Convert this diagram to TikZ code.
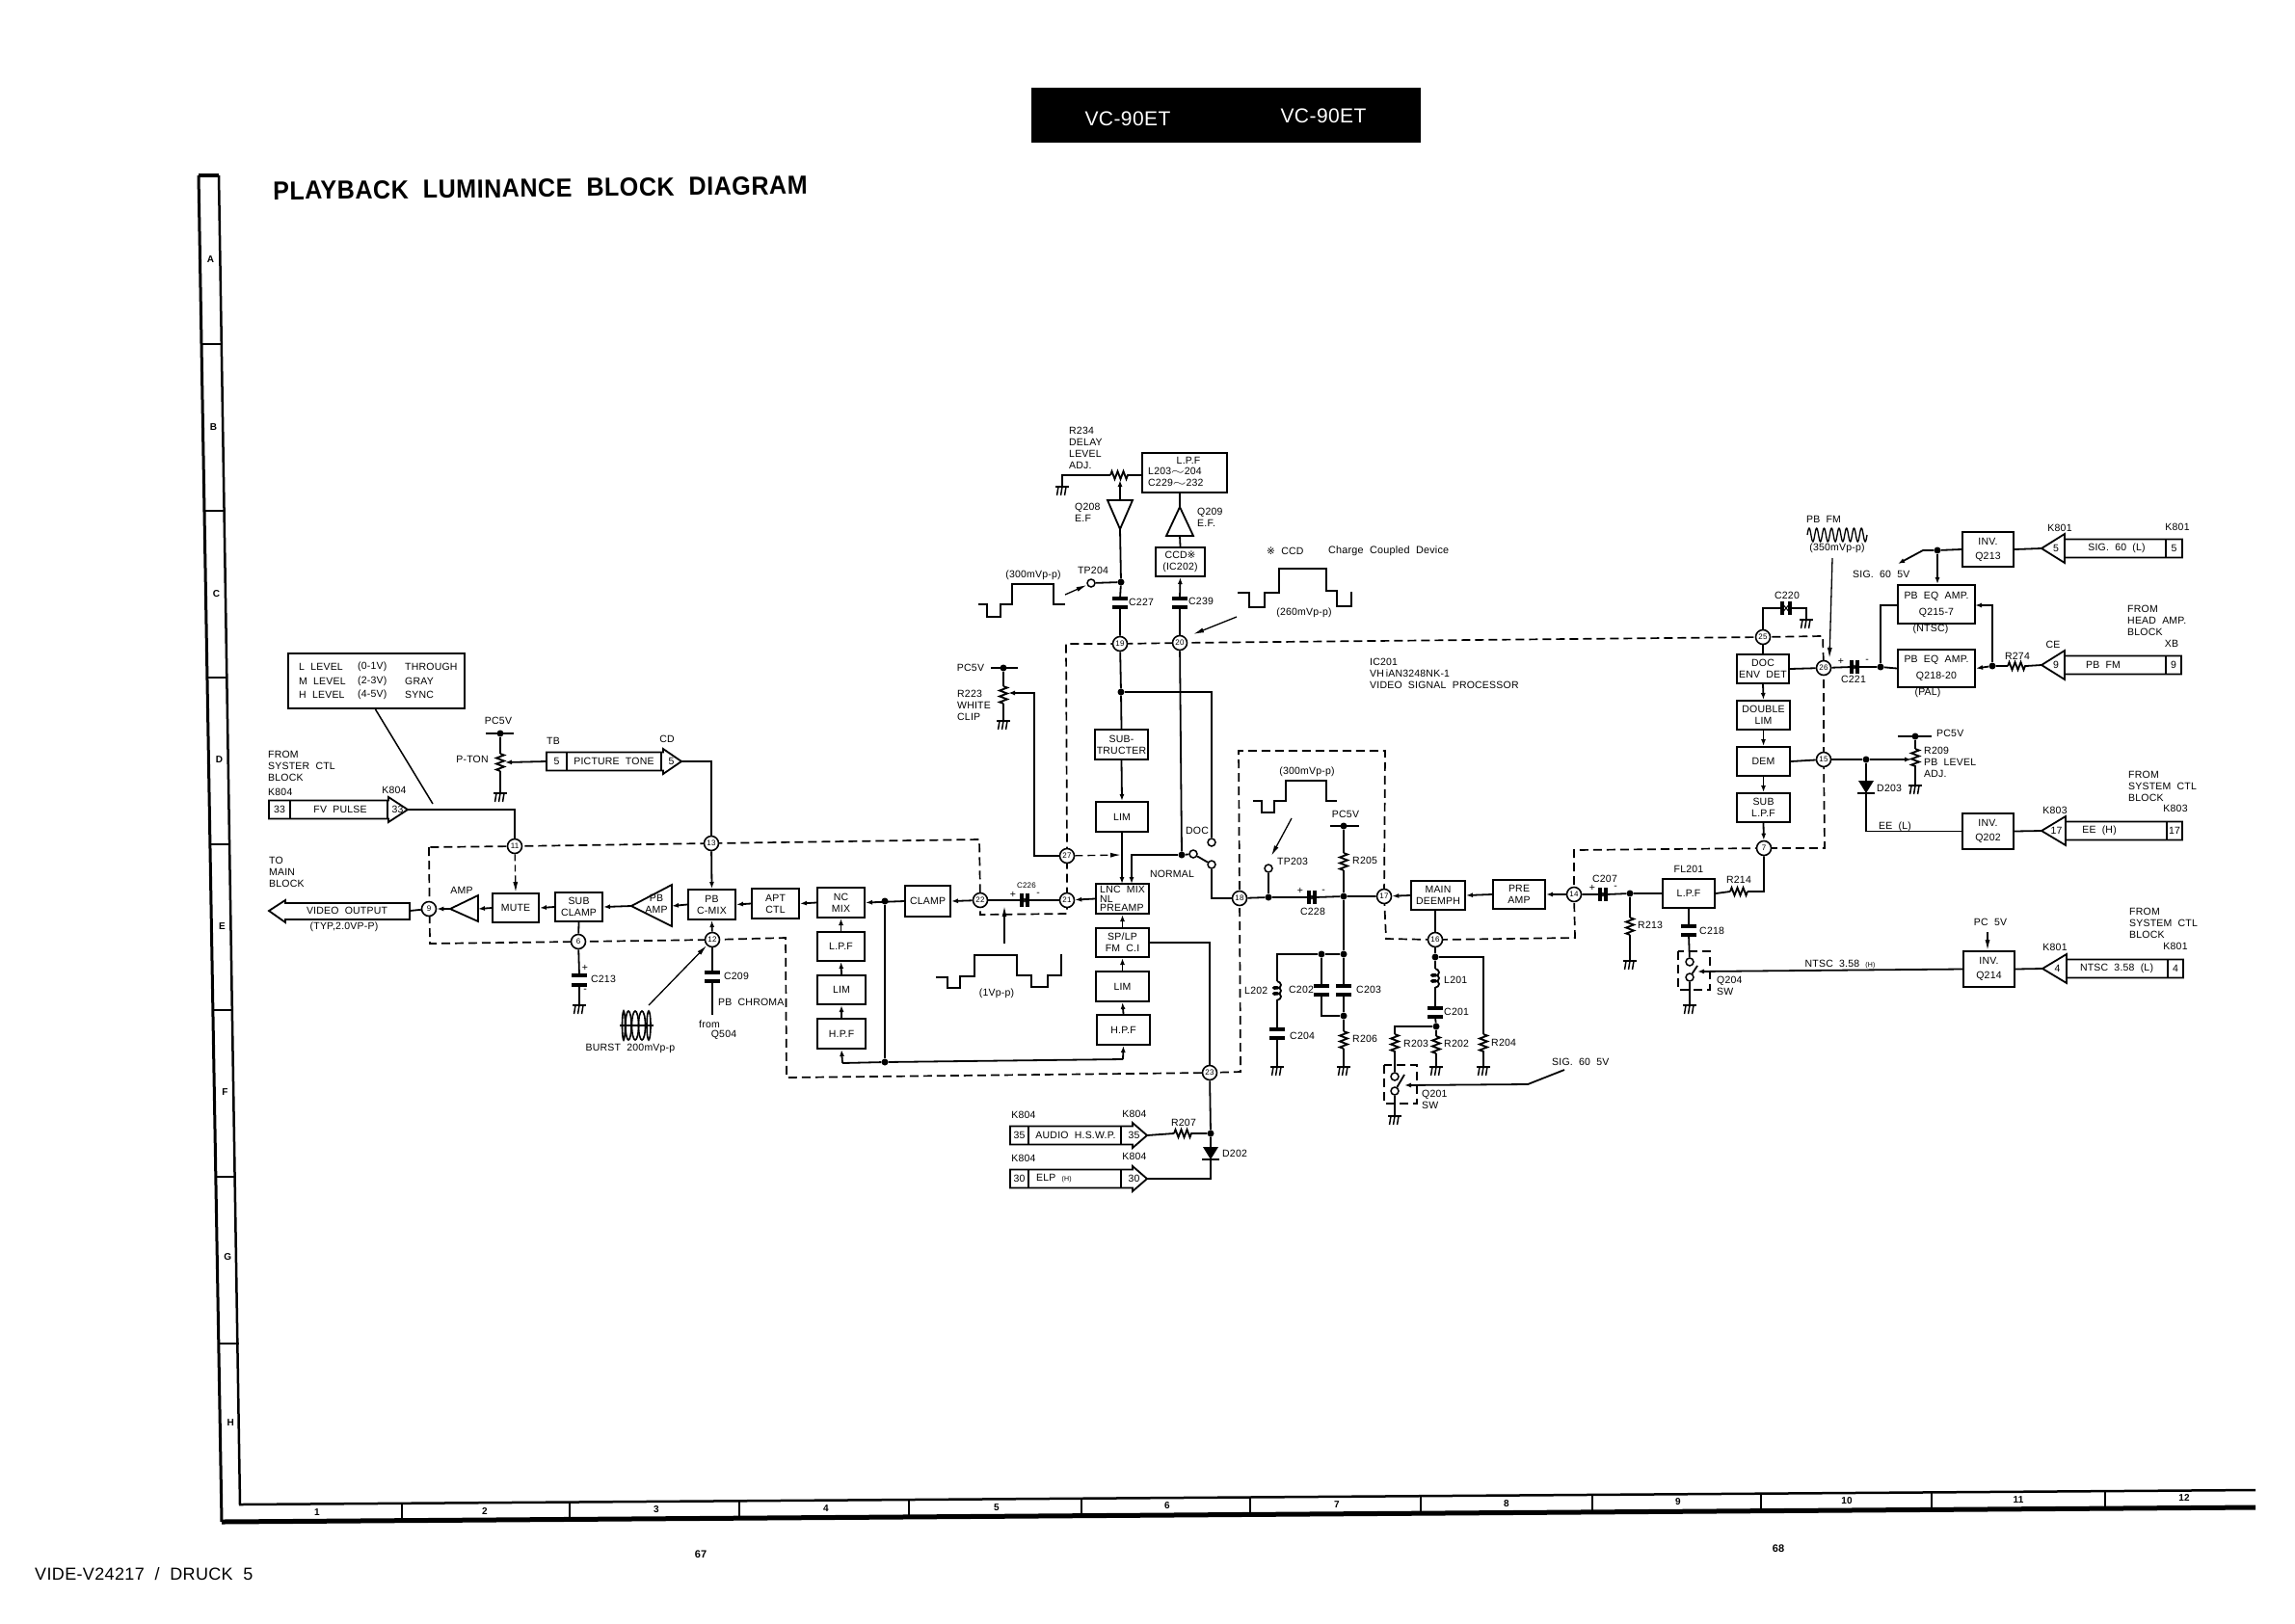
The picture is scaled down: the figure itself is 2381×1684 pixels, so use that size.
\documentclass[tikz,border=0pt]{standalone}
\usepackage{fontspec}
\setmainfont[LetterSpace=2,WordSpace=2]{Liberation Sans}
\newfontfamily\symfont{DejaVu Sans}
\usetikzlibrary{arrows.meta,decorations.pathmorphing}
\tikzset{
  sig/.style={line width=1.8pt},
  sigto/.style={sig,-{Latex[length=7pt,width=5pt]}},
  thinto/.style={line width=1.3pt,-{Latex[length=11pt,width=5pt]}},
  blockbox/.style={draw,line width=2pt,inner sep=0pt,align=center,fill=white},
  tpt/.style={circle,draw,line width=1.6pt,fill=white,inner sep=0pt,minimum size=15pt,font=\fontsize{8}{8}\selectfont},
  junc/.style={circle,fill,inner sep=0pt,minimum size=7pt},
  swc/.style={circle,draw,line width=1.5pt,fill=white,inner sep=0pt,minimum size=8pt},
  tag/.style={inner sep=0pt,align=center},
  tagl/.style={tag,anchor=west,align=left},
  icline/.style={line width=1.7pt,dash pattern=on 9pt off 5pt},
  wave/.style={line width=1.6pt,line join=miter},
  plate/.style={line width=3.2pt},
  zig/.style={sig,decorate,decoration={zigzag,amplitude=4pt,segment length=6pt}},
  coilv/.style={sig,decorate,decoration={coil,aspect=0.6,amplitude=4pt,segment length=6pt}},
}
\newcommand{\blk}[6]{\node[blockbox,minimum width={#4-#2},minimum height={#5-#3}] (#1) at ({(#2+#4)/2},{(#3+#5)/2}) {#6};}
\newcommand{\gnd}[3]{\coordinate (#1) at (#2,#3);
  \draw[line width=2pt] (#2-7,#3) -- (#2+7,#3);
  \foreach \gx in {-4,0,4} \draw[line width=1.5pt] (#2+\gx,#3) -- (#2+\gx-1.5,#3+9);}
\newcommand{\resV}[4]{\coordinate (#1a) at (#2,#3); \coordinate (#1b) at (#2,#4); \draw[zig] (#1a) -- (#1b);}
\newcommand{\resH}[4]{\coordinate (#1a) at (#2,#4); \coordinate (#1b) at (#3,#4); \draw[zig] (#1a) -- (#1b);}
\newcommand{\capV}[4]{\coordinate (#1a) at (#2,#3); \coordinate (#1b) at (#2,#4);
  \draw[plate] (#2-8,#3) -- (#2+8,#3) (#2-8,#4) -- (#2+8,#4);}
\newcommand{\capH}[4]{\coordinate (#1a) at (#2,#4); \coordinate (#1b) at (#3,#4);
  \draw[plate] (#2,#4-7) -- (#2,#4+7) (#3,#4-7) -- (#3,#4+7);
  \draw[line width=1pt] (#2,#4-5) -- (#3,#4+5) (#2,#4+5) -- (#3,#4-5);}
\newcommand{\diodeD}[3]{\coordinate (#1) at (#2,#3);
  \fill (#2-8,#3-7) -- (#2+8,#3-7) -- (#2,#3+6) -- cycle;
  \draw[line width=2pt] (#2-9,#3+6) -- (#2+9,#3+6);}
\newcommand{\portright}[9]{%
  \draw[sig,fill=white] (#2,#7-9.5) -- (#5,#7-9.5) -- (#5,#7-13) -- (#6,#7) -- (#5,#7+13) -- (#5,#7+9.5) -- (#2,#7+9.5) -- cycle;
  \draw[sig] (#3,#7-9.5) -- (#3,#7+9.5) (#4,#7-9.5) -- (#4,#7+9.5);
  \coordinate (#1) at (#6,#7); \coordinate (#1in) at (#2,#7);
  \node[tag] (#1a) at ({(#2+#3)/2},#7) {#8};
  \node[tag] (#1b) at ({(#4+#6)/2},#7) {#9};}
\newcommand{\portleft}[8]{%
  \draw[sig,fill=white] (#5,#6-9.5) -- (#3,#6-9.5) -- (#3,#6-15) -- (#2,#6) -- (#3,#6+15) -- (#3,#6+9.5) -- (#5,#6+9.5) -- cycle;
  \draw[sig] (#3,#6-9.5) -- (#3,#6+9.5) (#4,#6-9.5) -- (#4,#6+9.5);
  \coordinate (#1) at (#2,#6);
  \node[tag] (#1a) at ({(#2+#3)/2+3},#6) {#7};
  \node[tag] (#1b) at ({(#4+#5)/2},#6) {#8};}

\begin{document}
\begin{tikzpicture}[x=1pt,y=-1pt,font=\fontsize{10.5}{12}\selectfont]
  \useasboundingbox (0,0) rectangle (2381,1684);

  % sheet frame
  \draw[line width=3pt] (206,182) -- (230,1579);
  \draw[line width=5pt] (230,1579) -- (2340,1564);
  \draw[line width=2.5pt] (227,182) -- (249,1561) -- (2340,1546);
  \draw[line width=4pt] (206,182) -- (227,182);
  \foreach \ty in {357,530,703,876,1048,1221,1394}
    \draw[line width=1.8pt] ({206+(\ty-182)*0.01717},\ty) -- ++(21,0);
  \foreach \ty/\tl in {269/A,443/B,616/C,788/D,961/E,1133/F,1304/G,1476/H}
    \node[tag,font=\bfseries\fontsize{10}{12}\selectfont] (row\tl) at ({217+(\ty-182)*0.01717},\ty) {\tl};
  \foreach \cx in {417,591,767,943,1122,1297,1474,1652,1827,2004,2184}
    \draw[line width=1.6pt] (\cx,{1561-(\cx-249)*0.00717}) -- ++(0,16);
  \foreach \cx/\cn in {329/1,503/2,681/3,857/4,1034/5,1211/6,1387/7,1563/8,1741/9,1916/10,2094/11,2266/12}
    \node[tag,font=\bfseries\fontsize{10}{12}\selectfont] (col\cn) at (\cx,{1569-(\cx-329)*0.0076}) {\cn};

  % headings
  \fill (1070,91) rectangle (1474,148);
  \node[tag,white,font=\fontsize{21}{23}\selectfont] (modela) at (1170,123) {VC-90ET};
  \node[tag,white,font=\fontsize{21}{23}\selectfont] (modelb) at (1373,120) {VC-90ET};
  \node[tagl,rotate=0.6,font=\bfseries\fontsize{27}{30}\selectfont] (title) at (283,198) {\scalebox{0.93}[1]{PLAYBACK LUMINANCE BLOCK DIAGRAM}};
  \node[tagl,font=\fontsize{18}{20}\selectfont] (druck) at (36,1633) {VIDE-V24217 / DRUCK 5};
  \node[tag,font=\bfseries\fontsize{11}{12}\selectfont] (pagea) at (727,1613) {67};
  \node[tag,font=\bfseries\fontsize{11}{12}\selectfont] (pageb) at (1845,1607) {68};

  % IC pins
  \foreach \pn/\px/\py in {9/445/943,11/534/878,13/738/875,6/600/977,12/739/975,22/1017/934,21/1107/934,27/1107/888,19/1162/668,20/1224/667,18/1286/932,23/1255/1113,17/1436/930,16/1489/975,14/1633/928,7/1830/880,15/1892/788,26/1892/693,25/1829/661}
    \coordinate (p\pn) at (\px,\py);
  \foreach \pc/\px/\py in {1/445/879,2/446/979,3/815/973,4/816/1118,5/1287/1112,6/1285/779,7/1437/779,8/1438/974,9/1634/973,10/1633/882,11/1893/880,12/1891/660,13/1106/668,14/1107/948,15/1017/949,16/1016/871}
    \coordinate (ic\pc) at (\px,\py);
  \draw[icline] (ic1) -- (ic2) -- (p6) -- (p12) -- (ic3) -- (ic4) -- (p23) -- (ic5) -- (p18) -- (ic6) -- (ic7) -- (p17) -- (ic8) -- (p16) -- (ic9) -- (p14) -- (ic10) -- (p7) -- (ic11) -- (p15) -- (p26) -- (ic12) -- (p25) -- (p20) -- (p19) -- (ic13) -- (p27) -- (p21) -- (ic14) -- (ic15) -- (p22) -- (ic16) -- (p13) -- (p11) -- cycle;
  \foreach \pn/\px/\py in {9/445/943,11/534/878,13/738/875,6/600/977,12/739/975,22/1017/934,21/1107/934,27/1107/888,19/1162/668,20/1224/667,18/1286/932,23/1255/1113,17/1436/930,16/1489/975,14/1633/928,7/1830/880,15/1892/788,26/1892/693,25/1829/661}
    \node[tpt] (n\pn) at (\px,\py) {\pn};

  % left part of the luminance chain
  \draw[sig,fill=white] (279,945) -- (296,934) -- (296,937) -- (425,937) -- (425,954) -- (296,954) -- (296,957) -- cycle;
  \coordinate (videoout) at (425,945);
  \node[tag] (videolbl) at (360,945) {VIDEO OUTPUT};
  \node[tag] (videotyp) at (357,962) {(TYP,2.0VP-P)};
  \node[tagl] (tomain) at (279,905) {TO\\MAIN\\BLOCK};
  \draw[sig] (467,943) coordinate (amptip) -- (496,929) -- (496,956) -- cycle;
  \coordinate (ampbase) at (496,943);
  \node[tag] (amplbl) at (479,924) {AMP};
  \blk{mute}{511}{927}{559}{957}{MUTE}
  \blk{subclamp}{576}{926}{625}{956}{SUB\\CLAMP}
  \draw[sig] (655,940) coordinate (pbamptip) -- (697,918) -- (697,961) -- cycle;
  \coordinate (pbampbase) at (697,940);
  \node[tag] (pbamplbl) at (681,938) {PB\\AMP};
  \blk{pbcmix}{714}{923}{763}{954}{PB\\C-MIX}
  \blk{aptctl}{780}{922}{829}{953}{APT\\CTL}
  \blk{ncmix}{848}{921}{897}{952}{NC\\MIX}
  \blk{clamp}{939}{919}{986}{951}{CLAMP}
  \blk{lpfa}{848}{967}{897}{997}{L.P.F}
  \blk{limb}{848}{1012}{898}{1042}{LIM}
  \blk{hpfa}{848}{1057}{898}{1088}{H.P.F}
  \node[junc] (jclamp) at (918,935) {};
  \node[junc] (jback) at (918,1102) {};
  \coordinate (hpfleft) at (874,1103);
  \coordinate (hpfright) at (1165,1099);
  \draw[sig] (videoout) -- (n9);
  \draw[sigto] (amptip) -- (n9);
  \draw[sigto] (mute.west) -- (ampbase);
  \draw[sigto] (subclamp.west) -- (mute.east);
  \draw[sigto] (pbamptip) -- (subclamp.east);
  \draw[sigto] (pbcmix.west) -- (pbampbase);
  \draw[sigto] (aptctl.west) -- (pbcmix.east);
  \draw[sigto] (ncmix.west) -- (aptctl.east);
  \draw[sigto] (clamp.west) -- (ncmix.east);
  \draw[sigto] (n22) -- (clamp.east);
  \draw[sigto] (lpfa.north) -- (ncmix.south);
  \draw[sigto] (limb.north) -- (lpfa.south);
  \draw[sigto] (hpfa.north) -- (limb.south);
  \draw[sig] (jclamp) -- (jback);
  \draw[sig] (hpfleft) -- (jback) -- (hpfright);
  \draw[sigto] (hpfleft) -- (hpfa.south);

  % connectors from the system control block
  \node[tagl] (fromsys) at (278,795) {FROM\\SYSTER CTL\\BLOCK};
  \node[tagl] (k804a) at (278,822) {K804};
  \node[tag] (k804b) at (409,820) {K804};
  \portright{fvpulse}{279}{301}{402}{403}{423}{840}{33}{33}
  \node[tag] (fvlbl) at (353,840) {FV PULSE};
  \draw[sig] (fvpulse) -| (n11);
  \draw[thinto,dash pattern=on 7pt off 4pt] (n11) -- (mute.north);
  \blk{lvlbox}{299}{678}{482}{735}{}
  \foreach \ly/\la/\lb/\lc/\ln in {692/L LEVEL/(0-1V)/THROUGH/a,707/M LEVEL/(2-3V)/GRAY/b,721/H LEVEL/(4-5V)/SYNC/c}{
    \node[tagl] (lvl\ln a) at (310,\ly) {\la};
    \node[tagl] (lvl\ln b) at (371,\ly) {\lb};
    \node[tagl] (lvl\ln c) at (420,\ly) {\lc};
  }
  \coordinate (lvlend) at (449,834);
  \draw[line width=1.5pt] (lvlbox.south) ++(-1,0) -- (lvlend);

  \node[tag] (ptonv) at (517,748) {PC5V};
  \node[tag] (ptonlbl) at (490,788) {P-TON};
  \node[junc] (jpton) at (519,761) {};
  \coordinate (ptonbl) at (504,761);
  \coordinate (ptonbr) at (533,761);
  \draw[sig] (ptonbl) -- (ptonbr);
  \resV{rpton}{519}{782}{800}
  \gnd{gpton}{519}{823}
  \draw[sig] (jpton) -- (rptona) (rptonb) -- (gpton);
  \node[tag] (tblbl) at (574,769) {TB};
  \node[tag] (cdlbl) at (692,767) {CD};
  \portright{tone}{567}{588}{686}{688}{707}{790}{5}{5}
  \node[tag] (tonelbl) at (637,790) {PICTURE TONE};
  \coordinate (rptonw) at (524,791);
  \draw[sigto] (tonein) -- (rptonw);
  \draw[sig] (tone) -| (n13);
  \draw[sigto] (n13) -- (pbcmix.north);

  % pins below the chain
  \draw[sig] (subclamp.south) -- (n6);
  \draw[sigto] (n12) -- (pbcmix.south);
  \capV{c213}{601}{1012}{1022}
  \gnd{g213}{601}{1043}
  \draw[sig] (n6) -- (c213a) (c213b) -- (g213);
  \node[tag] (c213p) at (607,1004) {+};
  \node[tag] (c213m) at (607,1028) {-};
  \node[tag] (c213l) at (626,1016) {C213};
  \capV{c209}{739}{1009}{1018}
  \coordinate (pbchr) at (739,1053);
  \draw[sig] (n12) -- (c209a) (c209b) -- (pbchr);
  \node[tag] (c209l) at (764,1013) {C209};
  \node[tagl] (pbchrl) at (745,1040) {PB CHROMA};
  \node[tag] (froml) at (736,1063) {from};
  \node[tag] (q504l) at (751,1074) {Q504};
  \coordinate (burstend) at (673,1043);
  \draw[thinto] (burstend) -- (n12);
  \draw[line width=1.4pt] (643,1064) -- (678,1064);
  \foreach \bx/\br in {647/1.5,652/3,659/3.5,666/3.5,673/2}
    \draw[line width=1.6pt] (\bx,1064) ellipse ({\br} and {15});
  \node[tag] (burstl) at (654,1088) {BURST 200mVp-p};

  % one volt waveform
  \draw[wave] (971,1014) -- (983,1014) -- (983,1025) -- (996,1025) -- (996,1013) -- (1011,1013) -- (1011,991) -- (1055,991) -- (1055,1012) -- (1070,1012) -- (1070,1024) -- (1087,1024) -- (1087,1012) -- (1101,1012) -- (1101,990);
  \node[tag] (wfol) at (1034,1031) {(1Vp-p)};
  \coordinate (wfot) at (1042,979);
  \coordinate (wfoe) at (1042,940);
  \draw[thinto] (wfot) -- (wfoe);
  \capH{c226}{1060}{1066}{934}
  \draw[sig] (n22) -- (c226a) (c226b) -- (n21);
  \node[tag,font=\fontsize{8}{9}\selectfont] (c226l) at (1065,919) {C226};
  \node[tag] (c226p) at (1051,928) {+};
  \node[tag] (c226m) at (1077,928) {-};

  % centre column
  \blk{lnc}{1137}{917}{1192}{948}{}
  \node[tagl] (lncl) at (1141,923) {LNC MIX};
  \node[tagl] (lncn) at (1141,933) {NL};
  \node[tagl] (lncp) at (1141,942) {PREAMP};
  \blk{splp}{1137}{963}{1192}{993}{SP/LP\\FM C.I}
  \blk{limc}{1137}{1008}{1192}{1039}{LIM}
  \blk{hpfb}{1138}{1053}{1193}{1084}{H.P.F}
  \blk{subtr}{1136}{757}{1191}{788}{SUB-\\TRUCTER}
  \blk{lima}{1137}{832}{1191}{863}{LIM}
  \draw[sigto] (lnc.west) -- (n21);
  \draw[sigto] (splp.north) -- (lnc.south);
  \draw[sigto] (limc.north) -- (splp.south);
  \draw[sigto] (hpfb.north) -- (limc.south);
  \draw[sigto] (hpfright) -- (hpfb.south);
  \draw[sigto] (subtr.south) -- (lima.north);
  \coordinate (lnctopa) at (1164,917);
  \coordinate (lnctopb) at (1174,917);
  \draw[sigto] (lima.south) -- (lnctopa);
  \node[junc] (jsub) at (1163,718) {};
  \draw[sig] (n19) -- (jsub) -- (subtr.north);
  \node[junc] (jdoc) at (1226,887) {};
  \draw[sig] (n20) -- (jdoc);
  \draw[sigto] (jdoc) -| (lnctopb);
  \node[swc] (swdoc) at (1257,874) {};
  \node[swc] (swnorm) at (1257,897) {};
  \node[swc] (swcom) at (1238,886) {};
  \draw[sig] (jdoc) -- (swcom) -- (swnorm);
  \draw[sig] (jsub) -| (swdoc);
  \draw[sig] (swnorm) |- (n18);
  \node[tag] (docl) at (1242,862) {DOC};
  \node[tag] (norml) at (1216,907) {NORMAL};
  \draw[sig] (splp.east) -| (n23);
  \coordinate (lncwht) at (1163,887);
  \draw[thinto,dash pattern=on 8pt off 5pt] (n27) -- (lncwht);

  % white clip
  \node[tag] (wclipv) at (1007,693) {PC5V};
  \node[junc] (jwclip) at (1041,693) {};
  \coordinate (wclipl) at (1028,693);
  \coordinate (wclipr) at (1056,693);
  \draw[sig] (wclipl) -- (wclipr);
  \resV{r223}{1041}{712}{730}
  \gnd{g223}{1041}{748}
  \draw[sig] (jwclip) -- (r223a) (r223b) -- (g223);
  \node[tagl] (r223l) at (993,732) {R223\\WHITE\\CLIP};
  \coordinate (wcorner) at (1073,888);
  \coordinate (wwiper) at (1046,719);
  \draw[sigto] (n27) -- (wcorner) |- (wwiper);

  % delay line
  \node[tagl] (r234l) at (1109,465) {R234\\DELAY\\LEVEL\\ADJ.};
  \gnd{g234}{1102}{505}
  \coordinate (r234c) at (1102,493);
  \resH{r234}{1152}{1172}{493}
  \blk{lpfd}{1185}{470}{1273}{511}{}
  \node[tag] (lpfdl) at (1233,478) {L.P.F};
  \node[tagl] (lpfda) at (1191,489) {L203\scalebox{1.6}[1]{$\sim$}204};
  \node[tagl] (lpfdb) at (1191,501) {C229\scalebox{1.6}[1]{$\sim$}232};
  \draw[sig] (g234) -- (r234c) -- (r234a) (r234b) -- (lpfd.west |- r234b);
  \coordinate (q208top) at (1162,519);
  \coordinate (r234w) at (1162,498);
  \coordinate (q208tip) at (1162,549);
  \draw[sig] (1149,519) -- (1175,519) -- (q208tip) -- cycle;
  \draw[sigto] (q208top) -- (r234w);
  \node[tagl] (q208l) at (1115,532) {Q208\\E.F};
  \coordinate (q209tip) at (1224,526);
  \coordinate (q209bot) at (1224,556);
  \draw[sig] (1210,556) -- (1238,556) -- (q209tip) -- cycle;
  \coordinate (lpfdbot) at (1224,511);
  \draw[sig] (q209tip) -- (lpfdbot);
  \node[tagl] (q209l) at (1242,537) {Q209\\E.F.};
  \blk{ccd}{1199}{568}{1250}{598}{CCD{\symfont ※}\\(IC202)}
  \draw[sig] (ccd.north) -- (q209bot);
  \node[junc] (jtpf) at (1163,604) {};
  \node[swc] (tp204) at (1132,605) {};
  \node[tag] (tp204l) at (1134,592) {TP204};
  \draw[sig] (tp204) -- (jtpf);
  \capV{c227}{1162}{621}{630}
  \draw[sig] (q208tip) -- (jtpf) -- (c227a) (c227b) -- (n19);
  \node[tagl] (c227l) at (1171,625) {C227};
  \capV{c239}{1224}{621}{630}
  \draw[sig] (n20) -- (c239b);
  \draw[sigto] (c239a) -- (ccd.south);
  \node[tagl] (c239l) at (1233,624) {C239};
  \draw[wave] (1015,627) -- (1024,627) -- (1024,640) -- (1038,640) -- (1038,627) -- (1050,627) -- (1050,606) -- (1093,606) -- (1093,627) -- (1105,627);
  \node[tag] (wfal) at (1072,597) {(300mVp-p)};
  \coordinate (wfae) at (1105,617);
  \draw[thinto] (wfae) -- (tp204);
  \node[tagl] (ccdnote) at (1314,572) {{\symfont ※} CCD};
  \node[tagl,font=\fontsize{10.8}{12}\selectfont] (ccdfull) at (1378,572) {Charge Coupled Device};
  \draw[wave] (1284,615) -- (1296,615) -- (1296,630) -- (1312,630) -- (1312,615) -- (1327,615) -- (1327,590) -- (1376,590) -- (1376,613) -- (1387,613) -- (1387,629) -- (1402,629) -- (1402,614);
  \node[tag] (wfbl) at (1353,636) {(260mVp-p)};
  \coordinate (wfbe) at (1283,640);
  \coordinate (wfbt) at (1238,658);
  \draw[thinto] (wfbe) -- (wfbt);
  \node[tagl] (ic201l) at (1421,699) {IC201\\VH\,iAN3248NK-1\\VIDEO SIGNAL PROCESSOR};

  % audio head switch and ELP
  \node[tag] (k804c) at (1062,1157) {K804};
  \node[tag] (k804d) at (1177,1156) {K804};
  \portright{audio}{1048}{1067}{1163}{1175}{1190}{1178}{35}{35}
  \node[tag] (audiol) at (1116,1178) {AUDIO H.S.W.P.};
  \node[tag] (k804e) at (1062,1202) {K804};
  \node[tag] (k804f) at (1177,1200) {K804};
  \portright{elp}{1048}{1067}{1163}{1175}{1190}{1223}{30}{30}
  \node[tagl] (elpl) at (1075,1223) {ELP {\fontsize{7}{8}\selectfont (H)}};
  \node[junc] (jaudio) at (1256,1176) {};
  \resH{r207}{1218}{1238}{1176}
  \draw[sig] (audio) -- (r207a) (r207b) -- (jaudio);
  \node[tag] (r207l) at (1228,1165) {R207};
  \diodeD{d202}{1256}{1197}
  \draw[sig] (n23) -- (jaudio) -- (d202);
  \draw[sig] (d202) |- (elp);
  \node[tagl] (d202l) at (1268,1197) {D202};

  % pin 18 network
  \node[junc] (jtpt) at (1316,931) {};
  \node[swc] (tp203) at (1316,901) {};
  \draw[sig] (tp203) -- (jtpt);
  \node[tagl] (tp203l) at (1325,894) {TP203};
  \draw[wave] (1300,831) -- (1309,831) -- (1309,843) -- (1322,843) -- (1322,831) -- (1334,831) -- (1334,810) -- (1376,810) -- (1376,831) -- (1387,831);
  \node[tag] (wfcl) at (1356,801) {(300mVp-p)};
  \coordinate (wfct) at (1340,849);
  \coordinate (wfce) at (1319,888);
  \draw[thinto] (wfct) -- (wfce);
  \node[junc] (jmain) at (1394,930) {};
  \capH{c228}{1358}{1364}{931}
  \draw[sig] (n18) -- (jtpt) -- (c228a) (c228b) -- (jmain) -- (n17);
  \node[tag] (c228l) at (1362,946) {C228};
  \node[tag] (c228p) at (1349,924) {+};
  \node[tag] (c228m) at (1373,925) {-};
  \node[tag] (r205v) at (1396,845) {PC5V};
  \node[junc] (jr205) at (1394,857) {};
  \coordinate (r205bl) at (1380,857);
  \coordinate (r205br) at (1410,857);
  \draw[sig] (r205bl) -- (r205br);
  \resV{r205}{1394}{885}{903}
  \draw[sig] (jr205) -- (r205a) (r205b) -- (jmain);
  \node[tagl] (r205l) at (1403,893) {R205};
  \node[junc] (jvert) at (1394,990) {};
  \node[junc] (jc202) at (1371,990) {};
  \coordinate (l202t) at (1325,990);
  \coordinate (l202a) at (1325,1018);
  \coordinate (l202b) at (1325,1043);
  \draw[sig] (jmain) -- (jvert) -- (jc202) -- (l202t) -- (l202a);
  \draw[coilv] (l202a) -- (l202b);
  \node[tagl] (l202l) at (1291,1028) {L202};
  \capV{c204}{1325}{1068}{1077}
  \gnd{g204}{1325}{1107}
  \draw[sig] (l202b) -- (c204a) (c204b) -- (g204);
  \node[tagl] (c204l) at (1338,1075) {C204};
  \capV{c202}{1371}{1023}{1032}
  \capV{c203}{1394}{1023}{1032}
  \node[junc] (jr206) at (1394,1054) {};
  \coordinate (c202c) at (1371,1054);
  \draw[sig] (jc202) -- (c202a) (c202b) -- (c202c) -- (jr206);
  \draw[sig] (jvert) -- (c203a) (c203b) -- (jr206);
  \node[tagl] (c202l) at (1337,1027) {C202};
  \node[tagl] (c203l) at (1407,1027) {C203};
  \resV{r206}{1394}{1070}{1088}
  \gnd{g206}{1394}{1107}
  \draw[sig] (jr206) -- (r206a) (r206b) -- (g206);
  \node[tagl] (r206l) at (1403,1078) {R206};

  % deemphasis
  \blk{deemph}{1464}{914}{1520}{944}{MAIN\\DEEMPH}
  \blk{preamp}{1549}{913}{1603}{943}{PRE\\AMP}
  \draw[sigto] (deemph.west) -- (n17);
  \draw[sigto] (preamp.west) -- (deemph.east);
  \draw[sigto] (n14) -- (preamp.east);
  \draw[sig] (deemph.south) ++(-3,0) -- (n16);
  \node[junc] (jdeem) at (1489,993) {};
  \coordinate (l201a) at (1489,1005);
  \coordinate (l201b) at (1489,1029);
  \draw[sig] (n16) -- (jdeem) -- (l201a);
  \draw[coilv] (l201a) -- (l201b);
  \node[tagl] (l201l) at (1498,1017) {L201};
  \capV{c201}{1489}{1046}{1055}
  \node[junc] (jc201) at (1490,1065) {};
  \draw[sig] (l201b) -- (c201a) (c201b) -- (jc201);
  \node[tagl] (c201l) at (1498,1050) {C201};
  \resV{r202}{1490}{1075}{1093}
  \gnd{g202}{1490}{1107}
  \draw[sig] (jc201) -- (r202a) (r202b) -- (g202);
  \node[tagl] (r202l) at (1498,1083) {R202};
  \coordinate (r204c) at (1539,993);
  \resV{r204}{1539}{1073}{1092}
  \gnd{g204b}{1539}{1107}
  \draw[sig] (jdeem) -- (r204c) -- (r204a) (r204b) -- (g204b);
  \node[tagl] (r204l) at (1547,1082) {R204};
  \coordinate (r203c) at (1447,1065);
  \resV{r203}{1447}{1073}{1093}
  \draw[sig] (jc201) -- (r203c) -- (r203a);
  \node[tagl] (r203l) at (1456,1083) {R203};
  \draw[icline,line width=1.5pt] (1436,1105) rectangle (1470,1145);
  \node[swc] (sw201a) at (1447,1117) {};
  \node[swc] (sw201b) at (1447,1132) {};
  \coordinate (sw201e) at (1457,1115);
  \gnd{g201}{1447}{1158}
  \draw[sig] (r203b) -- (sw201a) (sw201b) -- (g201) (sw201b) -- (sw201e);
  \node[tagl] (q201l) at (1475,1141) {Q201\\SW};
  \node[tagl] (sig60a) at (1610,1102) {SIG. 60 5V};
  \coordinate (sigtop) at (1623,1110);
  \coordinate (sigbend) at (1585,1125);
  \coordinate (sigend) at (1457,1126);
  \draw[sigto] (sigtop) -- (sigbend) -- (sigend);

  % head amp side
  \capH{c207}{1660}{1666}{928}
  \node[junc] (jr213) at (1691,927) {};
  \blk{fl201}{1725}{912}{1779}{942}{L.P.F}
  \draw[sig] (n14) -- (c207a) (c207b) -- (jr213) -- (fl201.west);
  \node[tag] (c207l) at (1665,912) {C207};
  \node[tag] (c207p) at (1652,921) {+};
  \node[tag] (c207m) at (1676,921) {-};
  \node[tag] (fl201l) at (1752,902) {FL201};
  \resV{r213}{1691}{952}{970}
  \gnd{g213b}{1691}{997}
  \draw[sig] (jr213) -- (r213a) (r213b) -- (g213b);
  \node[tagl] (r213l) at (1699,960) {R213};
  \resH{r214}{1795}{1813}{925}
  \coordinate (r214c) at (1830,925);
  \draw[sig] (fl201.east) -- (r214a) (r214b) -- (r214c) -- (n7);
  \node[tag] (r214l) at (1804,913) {R214};
  \capV{c218}{1752}{961}{970}
  \draw[sig] (fl201.south) -- (c218a);
  \draw[icline,line width=1.5pt] (1741,987) rectangle (1774,1027);
  \node[swc] (sw204a) at (1753,998) {};
  \node[swc] (sw204b) at (1753,1014) {};
  \coordinate (sw204e) at (1761,1002);
  \gnd{g218}{1753}{1043}
  \draw[sig] (c218b) -- (sw204a) (sw204b) -- (g218) (sw204b) -- (sw204e);
  \node[tagl] (c218l) at (1763,966) {C218};
  \node[tagl] (q204l) at (1781,1023) {Q204\\SW};

  \blk{subl}{1802}{823}{1857}{853}{SUB\\L.P.F}
  \blk{dem}{1802}{775}{1857}{805}{DEM}
  \blk{doublim}{1802}{727}{1857}{757}{DOUBLE\\LIM}
  \blk{docenv}{1802}{679}{1856}{709}{DOC\\ENV DET}
  \draw[sigto] (docenv.south) -- (doublim.north);
  \draw[sigto] (doublim.south) -- (dem.north);
  \draw[sigto] (dem.south) -- (subl.north);
  \draw[sigto] (subl.south) -- (n7);
  \draw[sig] (docenv.north) -- (n25);
  \coordinate (c220t) at (1829,631);
  \capH{c220}{1849}{1857}{631}
  \coordinate (c220c) at (1874,631);
  \gnd{g220}{1874}{643}
  \draw[sig] (n25) -- (c220t) -- (c220a);
  \draw[sig] (c220b) -- (c220c) -- (g220);
  \node[tag] (c220l) at (1854,618) {C220};
  \draw[sig] (docenv.east) -- (n26);
  \draw[sig] (dem.east) -- (n15);
  \node[tag] (pbfml) at (1892,539) {PB FM};
  \draw[line width=1.3pt] plot[domain=0:62,samples=180,smooth] ({1875+\x},{555-7*sin(\x/7.75*360)});
  \node[tag] (pbfmv) at (1906,569) {(350mVp-p)};
  \coordinate (pbfmt) at (1901,579);
  \coordinate (pbfme) at (1898,683);
  \draw[thinto] (pbfmt) -- (pbfme);

  \capH{c221}{1921}{1927}{692}
  \node[junc] (jeq) at (1951,692) {};
  \draw[sig] (n26) -- (c221a) (c221b) -- (jeq);
  \node[tag] (c221l) at (1923,705) {C221};
  \node[tag] (c221p) at (1910,686) {+};
  \node[tag] (c221m) at (1937,686) {-};
  \blk{eqn}{1969}{607}{2049}{647}{PB EQ AMP.\\[5pt]Q215-7}
  \blk{eqp}{1969}{674}{2049}{713}{PB EQ AMP.\\[5pt]Q218-20}
  \node[tag] (ntscl) at (2003,653) {(NTSC)};
  \node[tag] (pall) at (2000,719) {(PAL)};
  \node[junc] (jeqr) at (2067,691) {};
  \draw[sig] (jeq) -- (eqp.west);
  \coordinate (eqnl) at (1969,628);
  \coordinate (eqnr) at (2049,628);
  \draw[sig] (jeq) |- (eqnl);
  \draw[sigto] (jeqr) |- (eqnr);
  \draw[sigto] (jeqr) -- (eqp.east);
  \resH{r274}{2083}{2102}{691}
  \node[tag] (r274l) at (2093,681) {R274};
  \portleft{pbfmin}{2118}{2142}{2247}{2263}{690}{9}{9}
  \draw[sig] (jeqr) -- (r274a) (r274b) -- (pbfmin);
  \node[tag] (pbfmt2) at (2182,690) {PB FM};
  \node[tag] (cel) at (2130,669) {CE};
  \node[tag] (xbl) at (2253,668) {XB};
  \node[tagl] (fromhead) at (2207,644) {FROM\\HEAD AMP.\\BLOCK};

  \blk{q213}{2036}{552}{2089}{588}{INV.\\[3pt]Q213}
  \portleft{sigin}{2118}{2142}{2247}{2264}{569}{5}{5}
  \node[tag] (sigint) at (2196,569) {SIG. 60 (L)};
  \node[tag] (k801a) at (2137,548) {K801};
  \node[tag] (k801b) at (2259,547) {K801};
  \draw[sig] (sigin) -- (q213.east);
  \node[junc] (jsig) at (2010,571) {};
  \coordinate (sigk) at (1995,571);
  \coordinate (sigp) at (1969,585);
  \draw[sig] (q213.west) -- (jsig);
  \draw[sigto] (jsig) -- (sigk) -- (sigp);
  \draw[sigto] (jsig) -- (eqn.north -| jsig);
  \node[tagl] (sig60b) at (1922,596) {SIG. 60 5V};

  \node[junc] (jdem) at (1936,788) {};
  \coordinate (r209w) at (1983,788);
  \draw[sig] (n15) -- (jdem);
  \draw[sigto] (jdem) -- (r209w);
  \node[junc] (jr209) at (1987,764) {};
  \coordinate (r209bl) at (1969,764);
  \coordinate (r209br) at (2004,764);
  \draw[sig] (r209bl) -- (r209br);
  \resV{r209}{1987}{777}{797}
  \gnd{g209}{1987}{815}
  \draw[sig] (jr209) -- (r209a) (r209b) -- (g209);
  \node[tagl] (pc5vr) at (2009,761) {PC5V};
  \node[tagl] (r209l) at (1996,791) {R209\\PB LEVEL\\ADJ.};
  \diodeD{d203}{1936}{817}
  \draw[sig] (jdem) -- (d203);
  \node[tagl] (d203l) at (1947,818) {D203};
  \blk{q202}{2036}{844}{2089}{881}{INV.\\[3pt]Q202}
  \draw[sig] (d203) |- (q202.west);
  \node[tag] (eel) at (1966,858) {EE (L)};
  \portleft{eein}{2118}{2143}{2248}{2264}{862}{17}{17}
  \draw[sig] (eein) -- (q202.east);
  \node[tag] (eet) at (2178,862) {EE (H)};
  \node[tag] (k803a) at (2132,841) {K803};
  \node[tag] (k803b) at (2257,839) {K803};
  \node[tagl] (fromsysa) at (2208,816) {FROM\\SYSTEM CTL\\BLOCK};

  \blk{q214}{2037}{987}{2090}{1024}{INV.\\[3pt]Q214}
  \portleft{ntscin}{2119}{2144}{2249}{2265}{1005}{4}{4}
  \draw[sig] (ntscin) -- (q214.east);
  \node[tag] (ntsct) at (2196,1005) {NTSC 3.58 (L)};
  \node[tag] (k801c) at (2132,983) {K801};
  \node[tag] (k801d) at (2257,982) {K801};
  \node[tagl] (fromsysb) at (2209,958) {FROM\\SYSTEM CTL\\BLOCK};
  \node[tag] (pc5vq) at (2065,957) {PC 5V};
  \coordinate (pc5va) at (2062,967);
  \draw[thinto] (pc5va) -- (pc5va |- q214.north);
  \coordinate (sw204w) at (1761,1008);
  \draw[sigto] (q214.west) -- (sw204w);
  \node[tag] (ntsch) at (1909,1001) {NTSC 3.58 {\fontsize{7}{8}\selectfont (H)}};
\end{tikzpicture}
\end{document}
